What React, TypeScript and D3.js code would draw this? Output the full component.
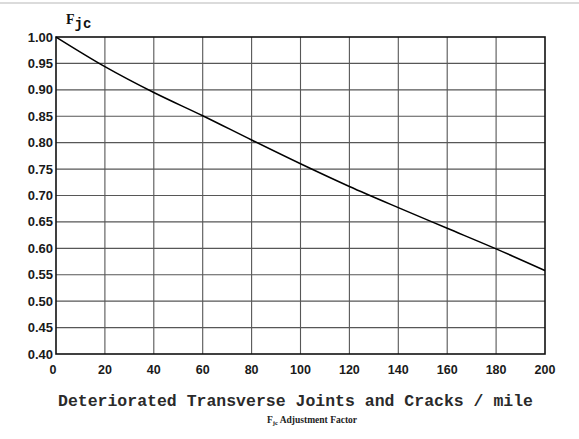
import * as d3 from 'd3'

// F_jc adjustment factor vs deteriorated joints/cracks per mile
const cracks: number[] = [0, 20, 40, 60, 80, 100, 120, 140, 160, 180, 200]
const factor: number[] = [1.0, 0.944, 0.895, 0.851, 0.805, 0.760, 0.717, 0.677, 0.638, 0.599, 0.558]

const xTicks: number[] = [0, 20, 40, 60, 80, 100, 120, 140, 160, 180, 200]
const yTicks: number[] = [0.4, 0.45, 0.5, 0.55, 0.6, 0.65, 0.7, 0.75, 0.8, 0.85, 0.9, 0.95, 1.0]

const xTitle = 'Deteriorated Transverse Joints and Cracks / mile'
const caption = ' Adjustment Factor'

const App = () => {
    const width = 579
    const height = 439
    const margin = { top: 37, right: 34, bottom: 85, left: 56 }

    const x = d3.scaleLinear().domain([0, 200]).range([margin.left, width - margin.right])
    const y = d3.scaleLinear().domain([0.4, 1.0]).range([height - margin.bottom, margin.top])

    const line = d3
        .line<number>()
        .x((_, i) => x(cracks[i]))
        .y((d) => y(d))
        .curve(d3.curveMonotoneX)

    const labelFont = '"Liberation Sans", Arial, sans-serif'
    const monoFont = '"Liberation Mono", "Courier New", monospace'
    const serifFont = '"Liberation Serif", "Times New Roman", serif'

    return (
        <svg
            width={width}
            height={height}
            style={{ position: 'absolute', left: 0, top: 0, background: '#fff' }}
        >
            <line x1={0} x2={width} y1={3} y2={3} stroke="#cfcfcf" strokeWidth={1.5} />

            {/* grid */}
            <g stroke="#3a3a3a" strokeWidth={1.1} opacity={0.85}>
                {xTicks.slice(1, -1).map((t) => (
                    <line key={'gx' + t} x1={x(t)} x2={x(t)} y1={y(1.0)} y2={y(0.4)} />
                ))}
                {yTicks.slice(1, -1).map((t) => (
                    <line key={'gy' + t} x1={x(0)} x2={x(200)} y1={y(t)} y2={y(t)} />
                ))}
            </g>
            <rect
                x={x(0)}
                y={y(1.0)}
                width={x(200) - x(0)}
                height={y(0.4) - y(1.0)}
                fill="none"
                stroke="#111"
                strokeWidth={1.6}
            />

            <path d={line(factor) ?? ''} fill="none" stroke="#000" strokeWidth={1.5} />

            {/* y tick labels */}
            <g fontFamily={labelFont} fontWeight="bold" fontSize={13} fill="#1a1a1a" textAnchor="end">
                {yTicks.map((t) => (
                    <text key={'ly' + t} x={53} y={y(t)} dy="0.35em">
                        {t.toFixed(2)}
                    </text>
                ))}
            </g>

            {/* x tick labels */}
            <g fontFamily={labelFont} fontWeight="bold" fontSize={12.5} fill="#1a1a1a" textAnchor="middle">
                {xTicks.map((t) => (
                    <text key={'lx' + t} x={x(t) - (t === 0 ? 3 : 0)} y={374}>
                        {t}
                    </text>
                ))}
            </g>

            {/* y title */}
            <text x={66} y={24} fontFamily={serifFont} fontWeight="bold" fontSize={14} fill="#111">
                F
                <tspan fontFamily={monoFont} fontSize={14} dy={4}>jc</tspan>
            </text>

            <text
                x={(58 + 533) / 2}
                y={406}
                textAnchor="middle"
                fontFamily={monoFont}
                fontSize={16.5}
                fontWeight="bold"
                fill="#2a2a2a"
                textLength={475}
                lengthAdjust="spacingAndGlyphs"
            >
                {xTitle}
            </text>

            <text x={267} y={423} fontFamily={serifFont} fontWeight="bold" fontSize={9.5} fill="#222">
                F
                <tspan fontSize={6.5} dy={2}>jc</tspan>
                <tspan dy={-2}>{caption}</tspan>
            </text>
        </svg>
    )
}

export default App
